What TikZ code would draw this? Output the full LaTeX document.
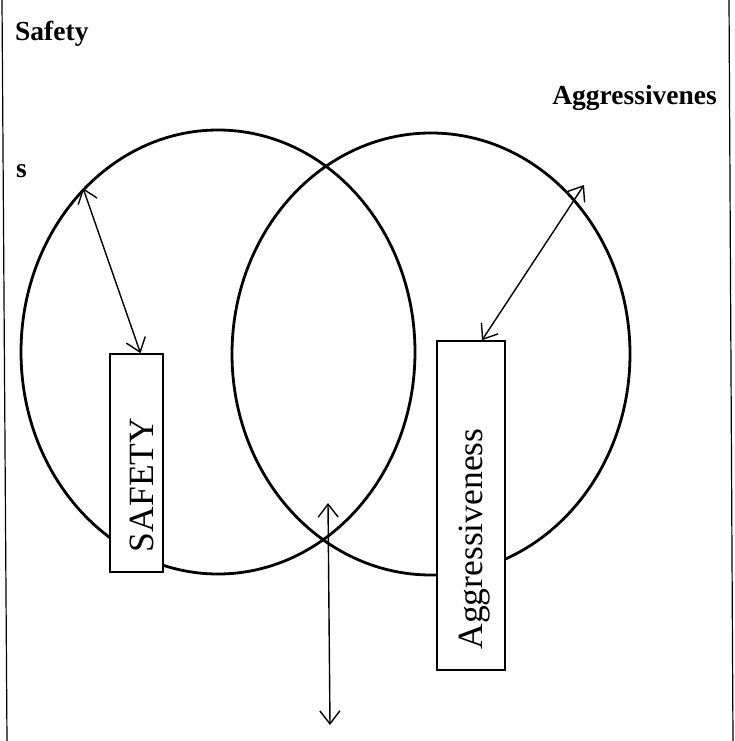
\documentclass[tikz,border=0pt]{standalone}
\usepackage{fontspec}
\setmainfont{Liberation Serif}
\usetikzlibrary{arrows.meta,positioning}
\usetikzlibrary{shapes}
\tikzset{
        % Overlapping rings
        node_ring/.style={ellipse, draw=black, line width=2.8pt, inner sep=0pt},
        % Upright boxes
        node_bar/.style={rectangle, draw=black, fill=white, line width=1.6pt, inner sep=0pt},
        % Text standing in the boxes
        node_bar_text/.style={rotate=90, anchor=base, inner sep=0pt, font=\fontsize{35.5}{40}\selectfont},
        % Bold labels at the top
        node_title/.style={inner sep=0pt, font=\fontsize{27.5}{32}\selectfont\bfseries},
        % Two-headed links
        link/.style={line width=1.4pt, {Straight Barb[length=13pt,width=20pt]}-{Straight Barb[length=13pt,width=20pt]}}
}
\begin{document}
\begin{tikzpicture}[x=1pt, y=-1pt]
    \useasboundingbox (0,0) rectangle (735,741);
    % frame sides
    \draw[line width=1.2pt] (2,0) -- (7,741);
    \draw[line width=1.2pt] (729,0) -- (733,741);

    \node[node_ring, minimum width=394pt, minimum height=444pt] (lring) at (218,352) {};
    \node[node_ring, minimum width=398pt, minimum height=442pt] (rring) at (431,354) {};

    \node[node_bar, minimum width=53pt, minimum height=218pt] (safebox) at (136.5,463) {};
    \node[node_bar_text] (safetext) at (153,485) {SAFETY};
    \node[node_bar, minimum width=68pt, minimum height=329pt] (aggbox) at (471,505.5) {};
    \node[node_bar_text] (aggtext) at (482,539) {Aggressiveness};

    \node[node_title, anchor=base west] (safetitle) at (15,41) {Safety};
    \node[node_title, anchor=base west] (safetail) at (16,177) {s};
    \node[node_title, anchor=base east] (aggtitle) at (717,105) {Aggressivenes};

    \coordinate (lend) at (83,188);
    \coordinate (rend) at (584,185);
    \coordinate (vtop) at (328,503);
    \coordinate (vbot) at (330,725);

    \draw[link] (lend) -- ([xshift=4pt]safebox.north);
    \draw[link] (rend) -- ([xshift=11pt]aggbox.north);
    \draw[link] (vtop) -- (vbot);
\end{tikzpicture}
\end{document}
